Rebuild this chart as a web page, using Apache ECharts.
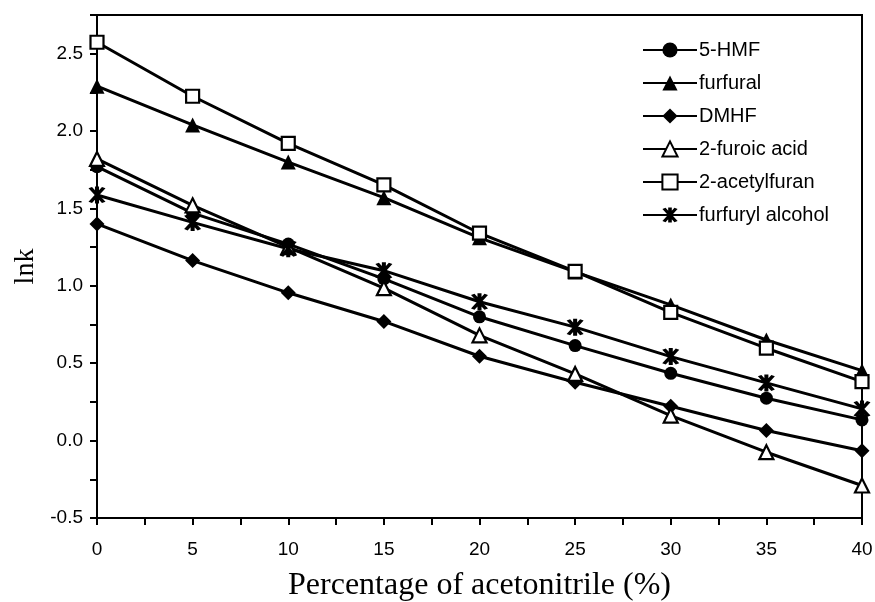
<!DOCTYPE html>
<html>
<head>
<meta charset="utf-8">
<script src="https://cdn.jsdelivr.net/npm/echarts@6/dist/echarts.min.js"></script>
<style>html,body{margin:0;padding:0;background:#fff}#c{width:875px;height:602px}</style>
</head>
<body>
<div id="c"></div>
<script>
var xValues = [0, 5, 10, 15, 20, 25, 30, 35, 40];
var hmf = [1.77, 1.47, 1.27, 1.045, 0.80, 0.614, 0.435, 0.274, 0.134];
var furfural = [2.29, 2.04, 1.80, 1.57, 1.31, 1.09, 0.877, 0.65, 0.452];
var dmhf = [1.40, 1.163, 0.955, 0.77, 0.545, 0.377, 0.222, 0.065, -0.065];
var furoicAcid = [1.82, 1.52, 1.25, 0.985, 0.68, 0.431, 0.162, -0.075, -0.29];
var acetylfuran = [2.574, 2.225, 1.92, 1.652, 1.34, 1.094, 0.829, 0.597, 0.381];
var furfurylAlcohol = [1.587, 1.41, 1.24, 1.098, 0.897, 0.733, 0.543, 0.373, 0.205];
var seriesNames = ['5-HMF', 'furfural', 'DMHF', '2-furoic acid', '2-acetylfuran', 'furfuryl alcohol'];

var star = 'path://M8.5 0L11.5 0L11.5 20L8.5 20Z M3.7 2.09L6.3 0.59L16.3 17.91L13.7 19.41Z M6.3 19.41L3.7 17.91L13.7 0.59L16.3 2.09Z';

function pairs(arr) { return xValues.map(function (x, i) { return [x, arr[i]]; }); }

var styles = [
  {data: hmf, symbol: 'circle', size: 13, fill: '#000'},
  {data: furfural, symbol: 'triangle', size: 15, fill: '#000'},
  {data: dmhf, symbol: 'diamond', size: 15, fill: '#000'},
  {data: furoicAcid, symbol: 'triangle', size: 14, fill: '#fff'},
  {data: acetylfuran, symbol: 'rect', size: 13, fill: '#fff'},
  {data: furfurylAlcohol, symbol: star, size: 17, fill: '#000'}
];

var series = styles.map(function (s, i) {
  return {
    name: seriesNames[i],
    type: 'line',
    data: pairs(s.data),
    symbol: s.symbol,
    symbolSize: s.size,
    showAllSymbol: true,
    lineStyle: {color: '#000', width: 3},
    itemStyle: {color: s.fill, borderColor: '#000', borderWidth: s.fill === '#fff' ? 2.2 : 0},
    emphasis: {disabled: true},
    animation: false
  };
});

var chart = echarts.init(document.getElementById('c'), null, {renderer: 'canvas'});
chart.setOption({
  backgroundColor: '#fff',
  animation: false,
  grid: {left: 97, right: 13, top: 15, bottom: 84, outerBoundsMode: 'none', containLabel: false,
    show: true, borderColor: '#000', borderWidth: 2, backgroundColor: 'transparent'},
  legend: {
    orient: 'vertical', left: 637, top: 35,
    itemWidth: 54, itemHeight: 19, itemGap: 13,
    textStyle: {fontFamily: 'Liberation Sans, Arial, sans-serif', fontSize: 20, color: '#000', padding: [0, 0, 0, -3]},
    data: seriesNames
  },
  xAxis: {
    type: 'value', min: 0, max: 40, interval: 2.5,
    name: 'Percentage of acetonitrile (%)', nameLocation: 'middle', nameGap: 52,
    nameTextStyle: {fontFamily: 'Liberation Serif, Times New Roman, serif', fontSize: 32, color: '#000'},
    axisLine: {onZero: false, lineStyle: {color: '#000', width: 2}},
    axisTick: {inside: false, length: 7, lineStyle: {color: '#000', width: 2}},
    axisLabel: {margin: 22, fontFamily: 'Liberation Sans, Arial, sans-serif', fontSize: 19, color: '#000',
      formatter: function (v) { return (v % 5 === 0) ? String(v) : ''; }},
    splitLine: {show: false}
  },
  yAxis: {
    type: 'value', min: -0.5, max: 2.75, interval: 0.25,
    name: 'lnk', nameLocation: 'middle', nameGap: 57,
    nameTextStyle: {fontFamily: 'Liberation Serif, Times New Roman, serif', fontSize: 28, color: '#000'},
    axisLine: {onZero: false, lineStyle: {color: '#000', width: 2}},
    axisTick: {inside: false, length: 7, lineStyle: {color: '#000', width: 2}},
    axisLabel: {margin: 14, fontFamily: 'Liberation Sans, Arial, sans-serif', fontSize: 19, color: '#000',
      formatter: function (v) { var r = Math.round(v * 100); return (r % 50 === 0 && r < 275) ? v.toFixed(1) : ''; }},
    splitLine: {show: false}
  },
  series: series
});
</script>
</body>
</html>
